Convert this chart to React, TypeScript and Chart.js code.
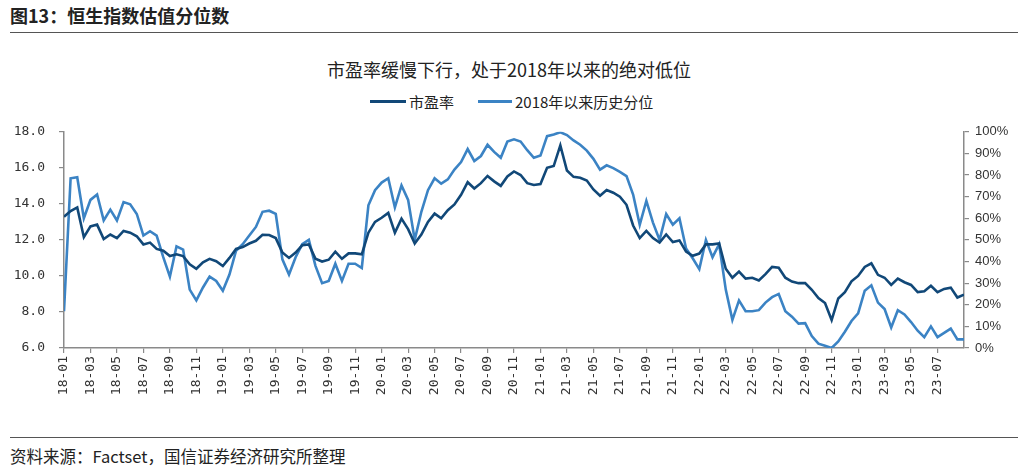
import React, { useEffect, useRef } from 'react';
import { Chart, registerables } from 'chart.js';

Chart.register(...registerables);

// x-axis tick labels (every two months, starting 2018-01)
const X_TICK_LABELS = [
  '18-01', '18-03', '18-05', '18-07', '18-09', '18-11',
  '19-01', '19-03', '19-05', '19-07', '19-09', '19-11',
  '20-01', '20-03', '20-05', '20-07', '20-09', '20-11',
  '21-01', '21-03', '21-05', '21-07', '21-09', '21-11',
  '22-01', '22-03', '22-05', '22-07', '22-09', '22-11',
  '23-01', '23-03', '23-05', '23-07',
];
const MONTHS_PER_TICK = 2;
const X_MAX_MONTHS = 68; // 2018-01 .. 2023-09
const SAMPLE_STEP_MONTHS = 0.5; // one observation every half month

// 市盈率 (left axis)
const PE = [
  13.28, 13.6, 13.8, 12.15, 12.75, 12.85, 12.05, 12.3, 12.1, 12.5,
  12.4, 12.2, 11.75, 11.85, 11.5, 11.4, 11.1, 11.2, 11.1, 10.65,
  10.4, 10.75, 10.95, 10.82, 10.55, 11.0, 11.5, 11.6, 11.8, 11.95,
  12.28, 12.27, 12.1, 11.3, 11.0, 11.3, 11.7, 11.75, 10.95, 10.8,
  10.9, 11.35, 10.95, 11.25, 11.25, 11.2, 12.4, 13.0, 13.23, 13.5,
  12.4, 13.18, 12.6, 11.8, 12.3, 13.0, 13.46, 13.2, 13.65, 13.97,
  14.5, 15.2, 14.85, 15.15, 15.55, 15.25, 15.0, 15.52, 15.8, 15.6,
  15.15, 15.05, 15.1, 16.0, 16.1, 17.25, 15.85, 15.5, 15.45, 15.3,
  14.8, 14.45, 14.77, 14.62, 14.4, 13.95, 12.8, 12.1, 12.5, 12.1,
  11.85, 12.3, 11.88, 11.97, 11.35, 11.12, 11.24, 11.75, 11.75, 11.8,
  10.4, 9.9, 10.24, 9.85, 9.9, 9.75, 10.1, 10.5, 10.45, 9.9,
  9.69, 9.6, 9.6, 9.23, 8.77, 8.5, 7.55, 8.75, 9.1, 9.7,
  10.0, 10.5, 10.7, 10.06, 9.9, 9.5, 9.85, 9.65, 9.5, 9.1,
  9.15, 9.45, 9.1, 9.28, 9.35, 8.8, 8.96,
];

// 2018年以来历史分位 (right axis, %)
const PCT = [
  17, 78.5, 79, 60, 68.5, 71, 59, 64, 59, 67.5,
  66.5, 62, 52, 54, 52, 42, 33, 47, 45.5, 27,
  22, 28, 33, 31, 26.5, 34, 45, 48, 52, 56,
  63, 63.5, 62, 41, 34, 42, 48, 50, 38, 30,
  31, 39, 31, 39, 39, 37, 66, 73, 76.5, 78.5,
  65, 75.2, 68.5, 50, 63, 73, 78.5, 76, 78, 82.5,
  86, 92, 86.5, 88.8, 94, 90.7, 88, 95.5, 96.5, 95.5,
  91.5, 88, 89, 98, 98.8, 99.8, 98.5, 96, 94, 91.3,
  87.5, 82.5, 84.5, 83.2, 81.5, 79.5, 71, 57, 68, 58,
  50, 62, 57, 60, 46, 41.5, 36.5, 50, 42, 48,
  27, 13, 22, 17, 17, 17.5, 21, 23.5, 25, 17,
  14.5, 11.3, 11.5, 5.5, 2, 1, 0, 3, 7.5, 12.5,
  16, 26.5, 29, 21, 18, 9.5, 17.5, 15.5, 12, 8,
  5, 10, 5, 7, 9, 4, 4,
];

const LEFT_TICKS = { min: 6, max: 18, step: 2 };
const RIGHT_TICKS = { min: 0, max: 100, step: 10 };

const DARK = '#114878';
const LIGHT = '#3b83c4';
const AXIS = '#8a8a8a';
const TEXT = '#333333';
const CJK = '"Noto Sans CJK SC", "Noto Sans", sans-serif';

export default function App() {
  const canvasRef = useRef<HTMLCanvasElement | null>(null);

  useEffect(() => {
    document.body.style.margin = '0';
    const canvas = canvasRef.current;
    if (!canvas) return;
    const monoFont = { family: '"DejaVu Sans Mono", "Liberation Mono", monospace', size: 13 };
    const chart = new Chart(canvas, {
      type: 'line',
      data: {
        datasets: [
          {
            label: '市盈率',
            data: PE.map((y, i) => ({ x: i * SAMPLE_STEP_MONTHS, y })),
            borderColor: DARK,
            backgroundColor: DARK,
            borderWidth: 2.6,
            pointRadius: 0,
            tension: 0,
            yAxisID: 'y',
            order: 1,
          },
          {
            label: '2018年以来历史分位',
            data: PCT.map((y, i) => ({ x: i * SAMPLE_STEP_MONTHS, y })),
            borderColor: LIGHT,
            backgroundColor: LIGHT,
            borderWidth: 2.6,
            pointRadius: 0,
            tension: 0,
            yAxisID: 'y1',
            order: 2,
          },
        ],
      },
      options: {
        responsive: false,
        animation: false,
        events: [],
        layout: { padding: { top: 18, left: 0, right: 0, bottom: 0 } },
        plugins: {
          legend: { display: false },
          title: { display: false },
          tooltip: { enabled: false },
        },
        scales: {
          x: {
            type: 'linear',
            min: 0,
            max: X_MAX_MONTHS,
            afterBuildTicks: (scale: any) => {
              scale.ticks = X_TICK_LABELS.map((_, i) => ({ value: i * MONTHS_PER_TICK }));
            },
            afterFit: (scale: any) => {
              scale.height = 62;
            },
            ticks: {
              autoSkip: false,
              minRotation: 90,
              maxRotation: 90,
              padding: 3,
              color: TEXT,
              font: monoFont,
              callback: (_v: any, i: number) => X_TICK_LABELS[i] ?? '',
            },
            grid: { drawOnChartArea: false, drawTicks: true, tickLength: 5, color: AXIS, lineWidth: 1.2 },
            border: { display: true, color: AXIS, width: 1.5 },
          },
          y: {
            position: 'left',
            min: LEFT_TICKS.min,
            max: LEFT_TICKS.max,
            afterFit: (scale: any) => {
              scale.width = 64;
            },
            ticks: {
              stepSize: LEFT_TICKS.step,
              padding: 14,
              color: TEXT,
              font: monoFont,
              callback: (v: any) => Number(v).toFixed(1),
            },
            grid: { drawOnChartArea: false, drawTicks: true, tickLength: 5, color: AXIS, lineWidth: 1.2 },
            border: { display: true, color: AXIS, width: 1.5 },
          },
          y1: {
            position: 'right',
            min: RIGHT_TICKS.min,
            max: RIGHT_TICKS.max,
            afterFit: (scale: any) => {
              scale.width = 54;
            },
            ticks: {
              stepSize: RIGHT_TICKS.step,
              padding: 6,
              color: TEXT,
              font: { family: '"Liberation Sans", Arial, sans-serif', size: 13 },
              callback: (v: any) => `${v}%`,
            },
            grid: { drawOnChartArea: false, drawTicks: true, tickLength: 5, color: AXIS, lineWidth: 1.2 },
            border: { display: true, color: AXIS, width: 1.5 },
          },
        },
      },
    } as any);
    return () => chart.destroy();
  }, []);

  return (
    <div style={{ position: 'relative', width: 1018, height: 472, background: '#ffffff', overflow: 'hidden', fontFamily: CJK }}>
      <div style={{ position: 'absolute', left: 10, top: 3, fontSize: 18, fontWeight: 600, color: '#222', lineHeight: '24px', whiteSpace: 'nowrap' }}>
        图13：恒生指数估值分位数
      </div>
      <div style={{ position: 'absolute', left: 10, top: 32, width: 1008, height: 0, borderTop: '1.5px solid #555' }} />
      <div style={{ position: 'absolute', left: 0, width: 1018, top: 56, textAlign: 'center', fontSize: 18, color: '#222', lineHeight: '26px', whiteSpace: 'nowrap' }}>
        市盈率缓慢下行，处于2018年以来的绝对低位
      </div>
      <div style={{ position: 'absolute', left: 370, top: 90, height: 22, display: 'flex', alignItems: 'center', fontSize: 15, color: '#222', whiteSpace: 'nowrap' }}>
        <span style={{ display: 'inline-block', width: 36, height: 3, background: DARK, marginRight: 3 }} />
        <span>市盈率</span>
        <span style={{ display: 'inline-block', width: 34, height: 3, background: LIGHT, marginLeft: 24, marginRight: 3 }} />
        <span>2018年以来历史分位</span>
      </div>
      <canvas ref={canvasRef} width={1018} height={300} style={{ position: 'absolute', left: 0, top: 110, width: 1018, height: 300 }} />
      <div style={{ position: 'absolute', left: 10, top: 437, width: 1008, height: 0, borderTop: '1.5px solid #555' }} />
      <div style={{ position: 'absolute', left: 10, top: 445, fontSize: 16.5, color: '#222', lineHeight: '22px', whiteSpace: 'nowrap' }}>
        资料来源：Factset，国信证券经济研究所整理
      </div>
    </div>
  );
}
